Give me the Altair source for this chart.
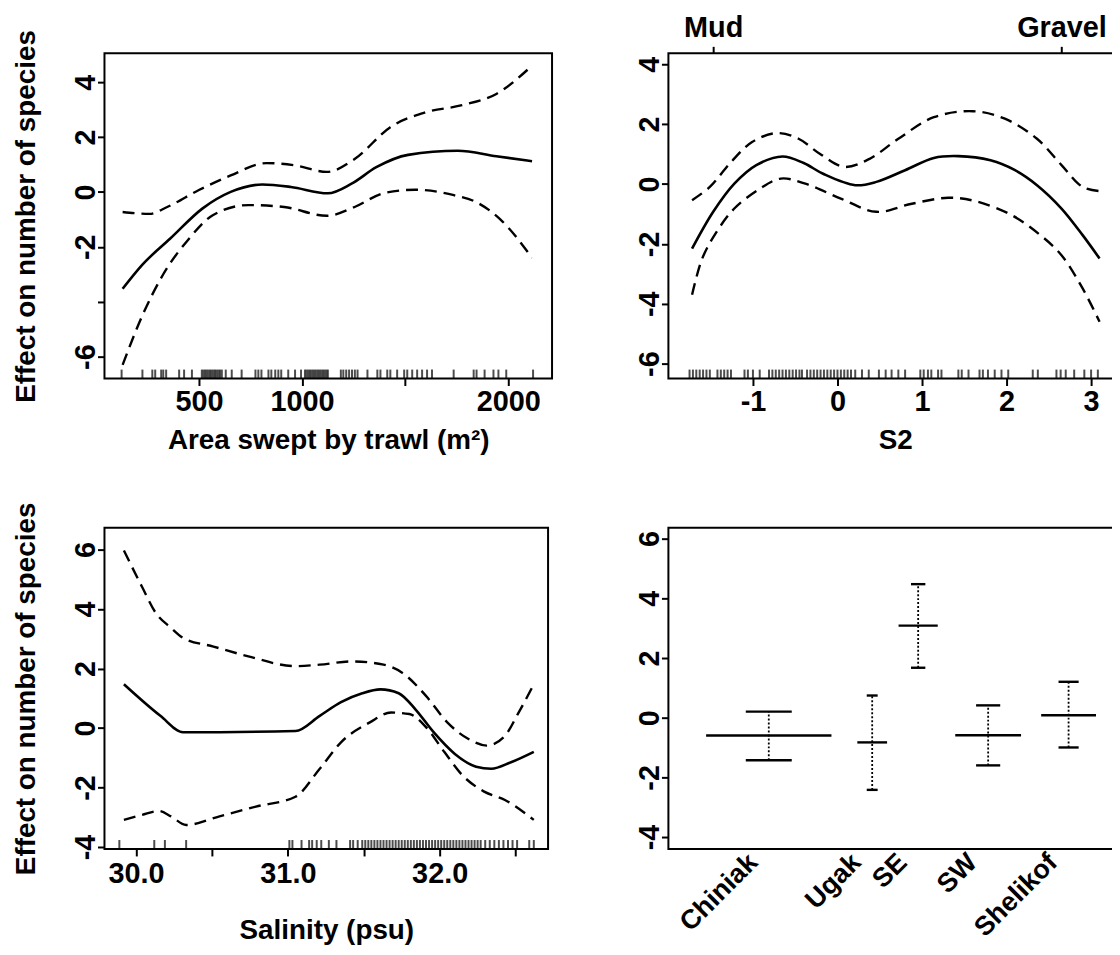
import altair as alt
import pandas as pd

FONT = "Liberation Sans"

# ---------------- Panel 1: area swept by trawl ----------------
area_fit_x = [130, 226, 361, 518, 654, 808, 946, 1125, 1240, 1360, 1514, 1755, 1942, 2115]
area_fit_y = [-3.53, -2.65, -1.7, -0.6, 0.0, 0.27, 0.18, -0.05, 0.3, 0.9, 1.35, 1.5, 1.3, 1.12]
area_up_x = [130, 260, 346, 500, 654, 827, 962, 1120, 1255, 1428, 1600, 1770, 1942, 2115]
area_up_y = [-0.73, -0.8, -0.55, 0.07, 0.6, 1.05, 0.97, 0.73, 1.2, 2.36, 2.9, 3.15, 3.57, 4.6]
area_lo_x = [130, 226, 327, 447, 567, 740, 913, 1120, 1255, 1394, 1548, 1736, 1841, 1961, 2115]
area_lo_y = [-6.3, -4.5, -3.0, -1.75, -0.85, -0.48, -0.55, -0.87, -0.55, -0.05, 0.08, -0.12, -0.36, -1.0, -2.4]
area_rug = [125, 226, 274, 288, 317, 327, 341, 404, 428, 466, 514, 522, 530, 538, 546, 554,
            562, 570, 578, 586, 594, 602, 611, 630, 659, 707, 774, 788, 803, 837, 851, 870,
            885, 899, 933, 966, 995, 1014, 1022, 1030, 1038, 1046, 1054, 1062, 1070, 1078,
            1086, 1094, 1102, 1110, 1118, 1125, 1188, 1200, 1214, 1228, 1242, 1256, 1269,
            1317, 1365, 1380, 1413, 1428, 1461, 1495, 1510, 1534, 1558, 1582, 1606, 1630,
            1735, 1832, 1846, 1885, 1928, 1952, 1990, 2120]
area_xticks = [500, 1000, 1500, 2000]
area_xlabels = ["500", "1000", "", "2000"]
area_yticks = [-6, -4, -2, 0, 2, 4]
area_ylabels = ["-6", "", "-2", "0", "2", "4"]

# ---------------- Panel 2: S2 (sediment) ----------------
s2_fit_x = [-1.72, -1.47, -1.22, -0.96, -0.65, -0.4, -0.17, 0.21, 0.46, 0.8, 1.14, 1.43, 1.81, 2.1, 2.36, 2.65, 2.9, 3.1]
s2_fit_y = [-2.16, -0.93, 0.01, 0.63, 0.92, 0.7, 0.34, -0.04, 0.07, 0.46, 0.87, 0.93, 0.79, 0.46, -0.04, -0.82, -1.71, -2.49]
s2_up_x = [-1.72, -1.51, -1.26, -1.01, -0.72, -0.46, -0.21, 0.08, 0.38, 0.72, 1.14, 1.6, 1.98, 2.36, 2.65, 2.9, 3.1]
s2_up_y = [-0.54, -0.1, 0.73, 1.4, 1.7, 1.51, 1.01, 0.57, 0.84, 1.51, 2.23, 2.43, 2.18, 1.51, 0.63, -0.1, -0.24]
s2_lo_x = [-1.72, -1.6, -1.43, -1.22, -0.92, -0.67, -0.38, 0.04, 0.46, 0.88, 1.31, 1.64, 2.06, 2.4, 2.65, 2.9, 3.1]
s2_lo_y = [-3.7, -2.49, -1.6, -0.82, -0.16, 0.18, 0.01, -0.49, -0.93, -0.66, -0.46, -0.58, -1.04, -1.71, -2.38, -3.49, -4.6]
s2_rug = [-1.75, -1.71, -1.67, -1.63, -1.59, -1.55, -1.51, -1.42, -1.38, -1.34, -1.30, -1.26,
          -1.10, -1.06, -1.00, -0.92, -0.81, -0.77, -0.73, -0.69, -0.65, -0.61, -0.57, -0.53,
          -0.49, -0.45, -0.42, -0.36, -0.32, -0.28, -0.24, -0.20, -0.16, -0.12, -0.08, -0.04,
          0.0, 0.04, 0.08, 0.12, 0.16, 0.21, 0.29, 0.37, 0.49, 0.57, 0.64, 0.72, 0.80, 0.98,
          1.02, 1.07, 1.11, 1.19, 1.23, 1.43, 1.47, 1.55, 1.68, 1.72, 1.78, 1.86, 1.94, 2.02,
          2.31, 2.37, 2.59, 2.64, 2.70, 2.80, 2.92, 3.00, 3.08]
s2_xticks = [-1, 0, 1, 2, 3]
s2_xlabels = ["-1", "0", "1", "2", "3"]
s2_yticks = [-6, -4, -2, 0, 2, 4]
s2_ylabels = ["-6", "-4", "-2", "0", "2", "4"]
sediment_pos = [-1.47, 2.65]
sediment_labels = ["Mud", "Gravel"]

# ---------------- Panel 3: salinity ----------------
sal_fit_x = [29.92, 30.16, 30.31, 31.05, 31.21, 31.35, 31.49, 31.61, 31.73, 31.84, 31.96, 32.10, 32.24, 32.34, 32.47, 32.62]
sal_fit_y = [1.47, 0.41, -0.14, -0.1, 0.41, 0.87, 1.17, 1.3, 1.17, 0.63, -0.14, -0.87, -1.3, -1.37, -1.15, -0.8]
sal_up_x = [29.92, 30.04, 30.13, 30.23, 30.31, 30.51, 30.74, 31.05, 31.21, 31.42, 31.63, 31.75, 31.91, 32.05, 32.19, 32.31, 32.43, 32.52, 32.62]
sal_up_y = [5.97, 4.74, 3.87, 3.37, 3.03, 2.74, 2.41, 2.08, 2.13, 2.24, 2.13, 1.87, 1.08, 0.19, -0.37, -0.59, -0.26, 0.52, 1.47]
sal_lo_x = [29.92, 30.04, 30.15, 30.23, 30.33, 30.55, 30.79, 31.05, 31.21, 31.35, 31.54, 31.68, 31.80, 31.91, 32.03, 32.15, 32.29, 32.43, 32.62]
sal_lo_y = [-3.09, -2.92, -2.79, -2.97, -3.26, -2.97, -2.64, -2.31, -1.37, -0.48, 0.19, 0.52, 0.47, 0.03, -0.8, -1.59, -2.13, -2.42, -3.09]
sal_rug = [29.89, 30.12, 30.19, 30.33, 31.01, 31.03, 31.09, 31.14, 31.16, 31.19, 31.22, 31.27,
           31.32, 31.41, 31.43, 31.46, 31.49, 31.51, 31.53, 31.55, 31.57, 31.59, 31.61, 31.63,
           31.65, 31.67, 31.69, 31.71, 31.73, 31.75, 31.77, 31.79, 31.81, 31.83, 31.85, 31.87,
           31.89, 31.91, 31.93, 31.95, 31.97, 31.99, 32.01, 32.03, 32.05, 32.07, 32.09, 32.11,
           32.13, 32.15, 32.17, 32.19, 32.21, 32.23, 32.25, 32.27, 32.30, 32.33, 32.36, 32.39,
           32.42, 32.45, 32.48, 32.51, 32.59, 32.62]
sal_xticks = [30, 30.5, 31, 31.5, 32, 32.5]
sal_xlabels = ["30.0", "", "31.0", "", "32.0", ""]
sal_yticks = [-4, -2, 0, 2, 4, 6]
sal_ylabels = ["-4", "-2", "0", "2", "4", "6"]

# ---------------- Panel 4: region factor ----------------
regions = ["Chiniak", "Ugak", "SE", "SW", "Shelikof"]
region_n = [80, 19, 25, 42, 35]
region_eff = [-0.6, -0.83, 3.08, -0.59, 0.08]
region_up = [0.2, 0.74, 4.47, 0.41, 1.2]
region_lo = [-1.43, -2.42, 1.67, -1.6, -1.0]
reg_yticks = [-4, -2, 0, 2, 4, 6]
reg_ylabels = ["-4", "-2", "0", "2", "4", "6"]


def label_expr(values, labels):
    expr = "''"
    for v, l in zip(values, labels):
        expr = f"abs(datum.value - ({v})) < 1e-6 ? '{l}' : ({expr})"
    return expr


COMMON = dict(labelFont=FONT, labelFontSize=29, labelFontWeight="bold", labelColor="black",
              titleFont=FONT, titleFontSize=28, titleFontWeight="bold", titleColor="black",
              tickColor="black", tickWidth=2, tickSize=7, domain=False, grid=False,
              labelOverlap=False, labelFlush=False)


def y_axis(values, labels, title=""):
    return alt.Axis(values=values, labelExpr=label_expr(values, labels), title=title,
                    labelAngle=-90, labelAlign="center", labelBaseline="alphabetic",
                    labelPadding=3, titlePadding=31, **COMMON)


def x_axis(values, labels, title="", label_pad=2, title_pad=10):
    return alt.Axis(values=values, labelExpr=label_expr(values, labels), title=title,
                    labelAngle=0, labelPadding=label_pad, titlePadding=title_pad, **COMMON)


def curve_df(xs, ys, name):
    return pd.DataFrame({"x": xs, "y": ys, "part": name})


def smooth_layers(fx, fy, ux, uy, lx, ly, rug, xdom, ydom, H, xax, yax, interp="monotone"):
    sx = alt.Scale(domain=xdom, nice=False, zero=False)
    sy = alt.Scale(domain=ydom, nice=False, zero=False)
    fit = alt.Chart(curve_df(fx, fy, "fit")).mark_line(
        color="black", strokeWidth=2.6, interpolate=interp).encode(
        x=alt.X("x:Q", scale=sx, axis=xax), y=alt.Y("y:Q", scale=sy, axis=yax))
    bands = alt.Chart(pd.concat([curve_df(ux, uy, "upper"), curve_df(lx, ly, "lower")])).mark_line(
        color="black", strokeWidth=2.4, strokeDash=[12, 7], interpolate=interp).encode(
        x=alt.X("x:Q", scale=sx, axis=xax), y=alt.Y("y:Q", scale=sy, axis=yax), detail="part:N")
    rugc = alt.Chart(pd.DataFrame({"x": rug})).mark_tick(
        color="black", thickness=2, size=9).encode(
        x=alt.X("x:Q", scale=sx, axis=xax), y=alt.value(H - 4.5))
    return [fit, bands, rugc], sx


# Panel 1
H1 = 327
l1, _ = smooth_layers(area_fit_x, area_fit_y, area_up_x, area_up_y, area_lo_x, area_lo_y, area_rug,
                      [42, 2212], [-6.8, 5.05], H1,
                      x_axis(area_xticks, area_xlabels, "Area swept by trawl (m²)"),
                      y_axis(area_yticks, area_ylabels, "Effect on number of species"))
p1 = alt.layer(*l1).properties(width=450, height=H1)

# Panel 2
H2 = 327
l2, sx2 = smooth_layers(s2_fit_x, s2_fit_y, s2_up_x, s2_up_y, s2_lo_x, s2_lo_y, s2_rug,
                        [-2.0, 3.365], [-6.5, 4.365], H2,
                        x_axis(s2_xticks, s2_xlabels, "S2"),
                        y_axis(s2_yticks, s2_ylabels, ""), interp="catmull-rom")
top_axis = alt.Axis(orient="top", values=sediment_pos,
                    labelExpr=label_expr(sediment_pos, sediment_labels), title="",
                    labelAngle=0, labelPadding=4, **COMMON)
sed_layer = alt.Chart(pd.DataFrame({"pos": sediment_pos, "label": sediment_labels})).mark_point(
    opacity=0).encode(x=alt.X("pos:Q", scale=sx2, axis=top_axis))
p2 = alt.layer(alt.layer(*l2), sed_layer).resolve_axis(x="independent").properties(width=456, height=H2)

# Panel 3
H3 = 323
l3, _ = smooth_layers(sal_fit_x, sal_fit_y, sal_up_x, sal_up_y, sal_lo_x, sal_lo_y, sal_rug,
                      [29.792, 32.714], [-4.067, 6.735], H3,
                      x_axis(sal_xticks, sal_xlabels, "Salinity (psu)", label_pad=4, title_pad=28),
                      y_axis(sal_yticks, sal_ylabels, "Effect on number of species"))
p3 = alt.layer(*l3).properties(width=446, height=H3)

# Panel 4 (factor term: widths proportional to counts)
rightx, acc = [], 0
for n in region_n:
    acc += n
    rightx.append(acc)
leftx = [r - n for r, n in zip(rightx, region_n)]
centers = [(a + b) / 2 for a, b in zip(leftx, rightx)]
delta = [(b - a) / 8 for a, b in zip(leftx, rightx)]
reg = pd.DataFrame({
    "region": regions, "left": [a + d for a, d in zip(leftx, delta)],
    "right": [b - d for b, d in zip(rightx, delta)], "center": centers,
    "capl": [c - d * 1.1 for c, d in zip(centers, delta)],
    "capr": [c + d * 1.1 for c, d in zip(centers, delta)],
    "eff": region_eff, "up": region_up, "lo": region_lo})
N = sum(region_n)
sx4 = alt.Scale(domain=[-0.04 * N, 1.04 * N], nice=False, zero=False)
sy4 = alt.Scale(domain=[-4.4, 6.36], nice=False, zero=False)
ax4x = alt.Axis(values=centers, labelExpr=label_expr(centers, regions), title="",
                labelAngle=-45, labelAlign="right", labelBaseline="middle", labelPadding=9,
                labelOffset=-16, **{**COMMON, "tickSize": 0, "labelFontSize": 27})
ax4y = y_axis(reg_yticks, reg_ylabels, "")
base4 = alt.Chart(reg)
eff4 = base4.mark_rule(color="black", strokeWidth=2.4).encode(
    x=alt.X("left:Q", scale=sx4, axis=ax4x), x2="right:Q", y=alt.Y("eff:Q", scale=sy4, axis=ax4y))
bar4 = base4.mark_rule(color="black", strokeWidth=1.8, strokeDash=[2, 2]).encode(
    x=alt.X("center:Q", scale=sx4, axis=ax4x), y=alt.Y("lo:Q", scale=sy4, axis=ax4y), y2="up:Q")
capu = base4.mark_rule(color="black", strokeWidth=2.4).encode(
    x=alt.X("capl:Q", scale=sx4, axis=ax4x), x2="capr:Q", y=alt.Y("up:Q", scale=sy4, axis=ax4y))
capl = base4.mark_rule(color="black", strokeWidth=2.4).encode(
    x=alt.X("capl:Q", scale=sx4, axis=ax4x), x2="capr:Q", y=alt.Y("lo:Q", scale=sy4, axis=ax4y))
p4 = alt.layer(eff4, bar4, capu, capl).properties(width=456, height=323)

chart = alt.concat(p1, p2, p3, p4, columns=2, spacing={"row": 150, "column": 117},
                   bounds="flush").configure_view(stroke="black", strokeWidth=2).properties(
    autosize=alt.AutoSizeParams(type="none"),
    padding={"left": 97, "top": 43, "right": 1013, "bottom": 896},
    background="white")

chart.save("out.html", embed_options={"renderer": "svg", "actions": False})
